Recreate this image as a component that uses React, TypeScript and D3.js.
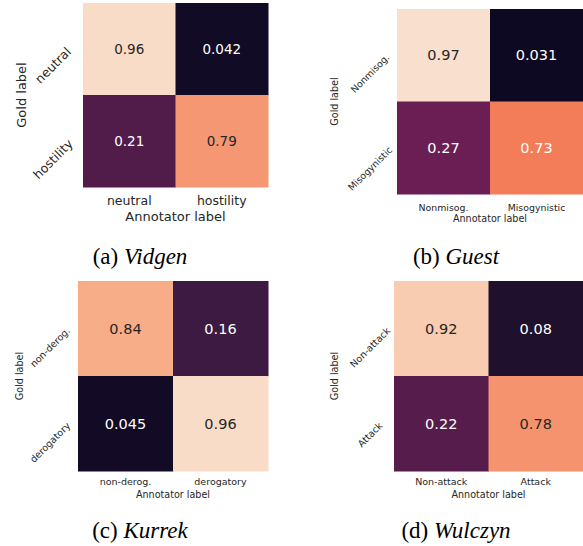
import React from "react";
import * as d3 from "d3";

// ---------- data ----------
const vidgenLabels = ["neutral", "hostility"];
const vidgenValues = [
  [0.96, 0.042],
  [0.21, 0.79],
];
const guestLabels = ["Nonmisog.", "Misogynistic"];
const guestValues = [
  [0.97, 0.031],
  [0.27, 0.73],
];
const kurrekLabels = ["non-derog.", "derogatory"];
const kurrekValues = [
  [0.84, 0.16],
  [0.045, 0.96],
];
const wulczynLabels = ["Non-attack", "Attack"];
const wulczynValues = [
  [0.92, 0.08],
  [0.22, 0.78],
];
const captionTags = ["(a)", "(b)", "(c)", "(d)"];
const captionNames = ["Vidgen", "Guest", "Kurrek", "Wulczyn"];
const xAxisTitle = "Annotator label";
const yAxisTitle = "Gold label";

// rocket colormap stops
const rocketPos = [0, 1 / 7, 2 / 7, 3 / 7, 4 / 7, 5 / 7, 6 / 7, 1];
const rocketCols = ["#03051a", "#35193e", "#701f57", "#ad1759", "#e13342", "#f37651", "#f6b48f", "#faebdd"];

// ---------- layout (separate from data) ----------
const layouts = [
  { x0: 83, x1: 268, y0: 3, y1: 187, tickFs: 12.5, titleFs: 13, annFs: 13.5, tickBase: 205, titleBase: 220.7, goldX: 21, yTickCx: 53, capX: 140, capBase: 264 },
  { x0: 397, x1: 583, y0: 9, y1: 194, tickFs: 9.4, titleFs: 9.6, annFs: 14.5, tickBase: 211.3, titleBase: 221.5, goldX: 334, yTickCx: 370, capX: 456, capBase: 264 },
  { x0: 78, x1: 268, y0: 281, y1: 471, tickFs: 9.5, titleFs: 9.6, annFs: 14.5, tickBase: 485, titleBase: 498, goldX: 19, yTickCx: 50, capX: 140, capBase: 538 },
  { x0: 394, x1: 583, y0: 281, y1: 471, tickFs: 9.5, titleFs: 9.6, annFs: 14.5, tickBase: 485, titleBase: 498, goldX: 334, yTickCx: 370, capX: 456, capBase: 538 },
];

const panels = [
  { labels: vidgenLabels, values: vidgenValues },
  { labels: guestLabels, values: guestValues },
  { labels: kurrekLabels, values: kurrekValues },
  { labels: wulczynLabels, values: wulczynValues },
];

const SANS = '"DejaVu Sans", sans-serif';
const SERIF = '"Liberation Serif", "Times New Roman", serif';
const TEXT_DARK = "#262626";

const color = d3
  .scaleLinear<string>()
  .domain(rocketPos)
  .range(rocketCols)
  .interpolate(d3.interpolateRgb)
  .clamp(true);

function relLum(c: string) {
  const rgb = d3.rgb(c);
  const f = (v: number) => {
    const s = v / 255;
    return s <= 0.03928 ? s / 12.92 : Math.pow((s + 0.055) / 1.055, 2.4);
  };
  return 0.2126 * f(rgb.r) + 0.7152 * f(rgb.g) + 0.0722 * f(rgb.b);
}

let measureCtx: CanvasRenderingContext2D | null = null;
function textWidth(text: string, fs: number) {
  if (!measureCtx) {
    const c = document.createElement("canvas");
    measureCtx = c.getContext("2d");
  }
  if (!measureCtx) return text.length * fs * 0.6;
  measureCtx.font = `${fs}px "DejaVu Sans"`;
  return measureCtx.measureText(text).width;
}

const fmt = d3.format(".2~g");

function Heatmap({ idx }: { idx: number }) {
  const L = layouts[idx];
  const P = panels[idx];
  const x = d3.scaleBand<string>().domain(P.labels).range([L.x0, L.x1]);
  const y = d3.scaleBand<string>().domain(P.labels).range([L.y0, L.y1]);
  const cells: { r: number; c: number; v: number }[] = [];
  P.values.forEach((row, r) => row.forEach((v, c) => cells.push({ r, c, v })));
  return (
    <g>
      {cells.map((d) => {
        const fill = color(d.v);
        const tc = relLum(fill) > 0.408 ? TEXT_DARK : "#ffffff";
        const cx = (x(P.labels[d.c]) as number) + x.bandwidth() / 2;
        const cy = (y(P.labels[d.r]) as number) + y.bandwidth() / 2;
        return (
          <g key={`${d.r}-${d.c}`}>
            <rect
              x={x(P.labels[d.c])}
              y={y(P.labels[d.r])}
              width={x.bandwidth() + 0.5}
              height={y.bandwidth() + 0.5}
              fill={fill}
            />
            <text
              x={cx}
              y={cy}
              textAnchor="middle"
              dominantBaseline="central"
              fontFamily={SANS}
              fontSize={L.annFs}
              fill={tc}
            >
              {fmt(d.v)}
            </text>
          </g>
        );
      })}
      {P.labels.map((lab) => (
        <text
          key={"xt" + lab}
          x={(x(lab) as number) + x.bandwidth() / 2}
          y={L.tickBase}
          textAnchor="middle"
          fontFamily={SANS}
          fontSize={L.tickFs}
          fill={TEXT_DARK}
        >
          {lab}
        </text>
      ))}
      {P.labels.map((lab) => {
        const w = textWidth(lab, L.tickFs);
        const cc = (y(lab) as number) + y.bandwidth() / 2;
        const cy = cc - 0.38 * L.tickFs + (w + 1.17 * L.tickFs) * 0.3536;
        return (
          <text
            key={"yt" + lab}
            transform={`translate(${L.yTickCx},${cy}) rotate(-45)`}
            textAnchor="middle"
            dominantBaseline="central"
            fontFamily={SANS}
            fontSize={L.tickFs}
            fill={TEXT_DARK}
          >
            {lab}
          </text>
        );
      })}
      <text
        x={(L.x0 + L.x1) / 2}
        y={L.titleBase}
        textAnchor="middle"
        fontFamily={SANS}
        fontSize={L.titleFs}
        fill={TEXT_DARK}
      >
        {xAxisTitle}
      </text>
      <text
        transform={`translate(${L.goldX},${(L.y0 + L.y1) / 2}) rotate(-90)`}
        textAnchor="middle"
        dominantBaseline="central"
        fontFamily={SANS}
        fontSize={L.titleFs}
        fill={TEXT_DARK}
      >
        {yAxisTitle}
      </text>
      <text x={L.capX} y={L.capBase} textAnchor="middle" fontFamily={SERIF} fontSize={23} fill="#000">
        {captionTags[idx] + " "}
        <tspan fontStyle="italic">{captionNames[idx]}</tspan>
      </text>
    </g>
  );
}

export default function App() {
  return (
    <svg
      width={583}
      height={546}
      viewBox="0 0 583 546"
      style={{ position: "absolute", left: 0, top: 0, background: "#fff" }}
    >
      <rect x={0} y={0} width={583} height={546} fill="#fff" />
      {layouts.map((_, i) => (
        <Heatmap key={i} idx={i} />
      ))}
    </svg>
  );
}
